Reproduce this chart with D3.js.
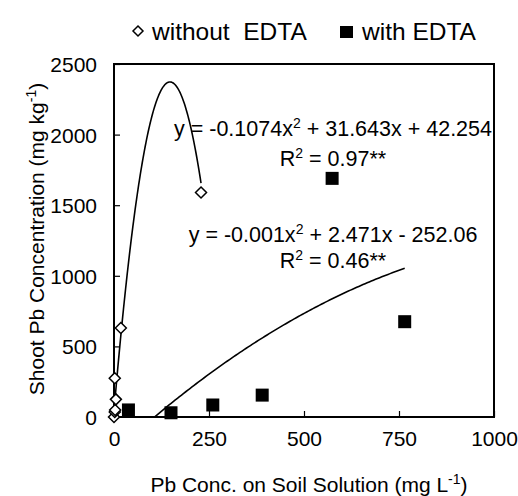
<!DOCTYPE html>
<html><head><meta charset="utf-8">
<script src="https://cdn.jsdelivr.net/npm/d3@7"></script>
<style>
html,body{margin:0;padding:0;background:#fff;}
svg text{font-family:"Liberation Sans",Arial,sans-serif;fill:#000;}
</style></head>
<body>
<svg id="chart" width="518" height="496"></svg>
<script>
// Data
const withoutX = [0, 2, 3, 5, 2, 18, 229];
const withoutY = [0, 35, 50, 125, 275, 630, 1590];
const withX = [38, 150, 260, 390, 574, 765];
const withY = [50, 30, 85, 155, 1690, 675];
const xTicks = [0, 250, 500, 750, 1000];
const yTicks = [0, 500, 1000, 1500, 2000, 2500];
const fit1 = [-0.1074, 31.643, 42.254];
const fit2 = [-0.001, 2.471, -252.06];
const fitRange1 = [0, 229];
const fitRange2 = [106.5, 765];

const svg = d3.select("#chart");
const L = 114, R = 494, T = 64, B = 417;
const x = d3.scaleLinear().domain([0, 1000]).range([L, R]);
const y = d3.scaleLinear().domain([0, 2500]).range([B, T]);

// axes (ticks inward)
const xAxis = svg.append("g").attr("transform", `translate(0,${B})`)
  .call(d3.axisBottom(x).tickValues(xTicks).tickFormat(d3.format("d")).tickSizeInner(-6).tickSizeOuter(0).tickPadding(14));
const yAxis = svg.append("g").attr("transform", `translate(${L},0)`)
  .call(d3.axisLeft(y).tickValues(yTicks).tickFormat(d3.format("d")).tickSizeInner(-6).tickSizeOuter(0).tickPadding(17));
[xAxis, yAxis].forEach(g => {
  g.select(".domain").remove();
  g.selectAll(".tick line").attr("stroke", "#000").attr("stroke-width", 1.2);
  g.selectAll(".tick text").attr("font-size", 21).attr("font-family", "Liberation Sans, Arial, sans-serif").attr("fill", "#000");
});
xAxis.selectAll(".tick text").attr("dy", "0.71em");
yAxis.selectAll(".tick text").attr("dy", "0.36em");

// frame
svg.append("rect").attr("x", L).attr("y", T).attr("width", R - L).attr("height", B - T)
  .attr("fill", "none").attr("stroke", "#000").attr("stroke-width", 2);

// trend curves
function curve(c, rng) {
  const pts = d3.range(rng[0], rng[1] + 0.001, (rng[1] - rng[0]) / 120).concat([rng[1]]);
  return pts.map(v => [v, c[0] * v * v + c[1] * v + c[2]]);
}
const line = d3.line().x(d => x(d[0])).y(d => y(d[1]));
svg.append("path").attr("d", line(curve(fit1, fitRange1))).attr("fill", "none").attr("stroke", "#000").attr("stroke-width", 1.6);
svg.append("path").attr("d", line(curve(fit2, fitRange2))).attr("fill", "none").attr("stroke", "#000").attr("stroke-width", 1.6);

// markers
function diamondPath(cx, cy, r) { return `M${cx},${cy - r}L${cx + r},${cy}L${cx},${cy + r}L${cx - r},${cy}Z`; }
svg.append("g").selectAll("path").data(withoutX.map((v, i) => [v, withoutY[i]])).join("path")
  .attr("d", d => diamondPath(x(d[0]), y(d[1]), 5.5))
  .attr("fill", "#fff").attr("stroke", "#000").attr("stroke-width", 1.5);
svg.append("g").selectAll("rect").data(withX.map((v, i) => [v, withY[i]])).join("rect")
  .attr("x", d => x(d[0]) - 6.5).attr("y", d => y(d[1]) - 6.5).attr("width", 13).attr("height", 13)
  .attr("fill", "#000");

// equation labels
function eq(txt1, sup, txt2, cx, by) {
  const t = svg.append("text").attr("x", cx).attr("y", by).attr("text-anchor", "middle").attr("font-size", 21.5);
  t.append("tspan").text(txt1);
  t.append("tspan").attr("dy", -8).attr("font-size", 14).text(sup);
  t.append("tspan").attr("dy", 8).text(txt2);
}
eq("y = -0.1074x", "2", " + 31.643x + 42.254", 333, 136);
eq("R", "2", " = 0.97**", 333, 166);
eq("y = -0.001x", "2", " + 2.471x - 252.06", 333, 242);
eq("R", "2", " = 0.46**", 333, 268);

// legend
svg.append("path").attr("d", diamondPath(138, 31, 5)).attr("fill", "#fff").attr("stroke", "#000").attr("stroke-width", 1.5);
svg.append("text").attr("x", 152).attr("y", 40).attr("font-size", 24.5).style("white-space", "pre").text("without  EDTA");
svg.append("rect").attr("x", 340).attr("y", 26).attr("width", 13).attr("height", 12).attr("fill", "#000");
svg.append("text").attr("x", 362).attr("y", 40).attr("font-size", 24.5).text("with EDTA");

// axis titles
const xt = svg.append("text").attr("x", 309).attr("y", 492).attr("text-anchor", "middle").attr("font-size", 21);
xt.append("tspan").text("Pb Conc. on Soil Solution (mg L");
xt.append("tspan").attr("dy", -8).attr("font-size", 14).text("-1");
xt.append("tspan").attr("dy", 8).text(")");
const yt = svg.append("text").attr("transform", "translate(44,239) rotate(-90)").attr("text-anchor", "middle").attr("font-size", 21);
yt.append("tspan").text("Shoot Pb Concentration (mg kg");
yt.append("tspan").attr("dy", -8).attr("font-size", 14).text("-1");
yt.append("tspan").attr("dy", 8).text(")");
</script>
</body></html>
